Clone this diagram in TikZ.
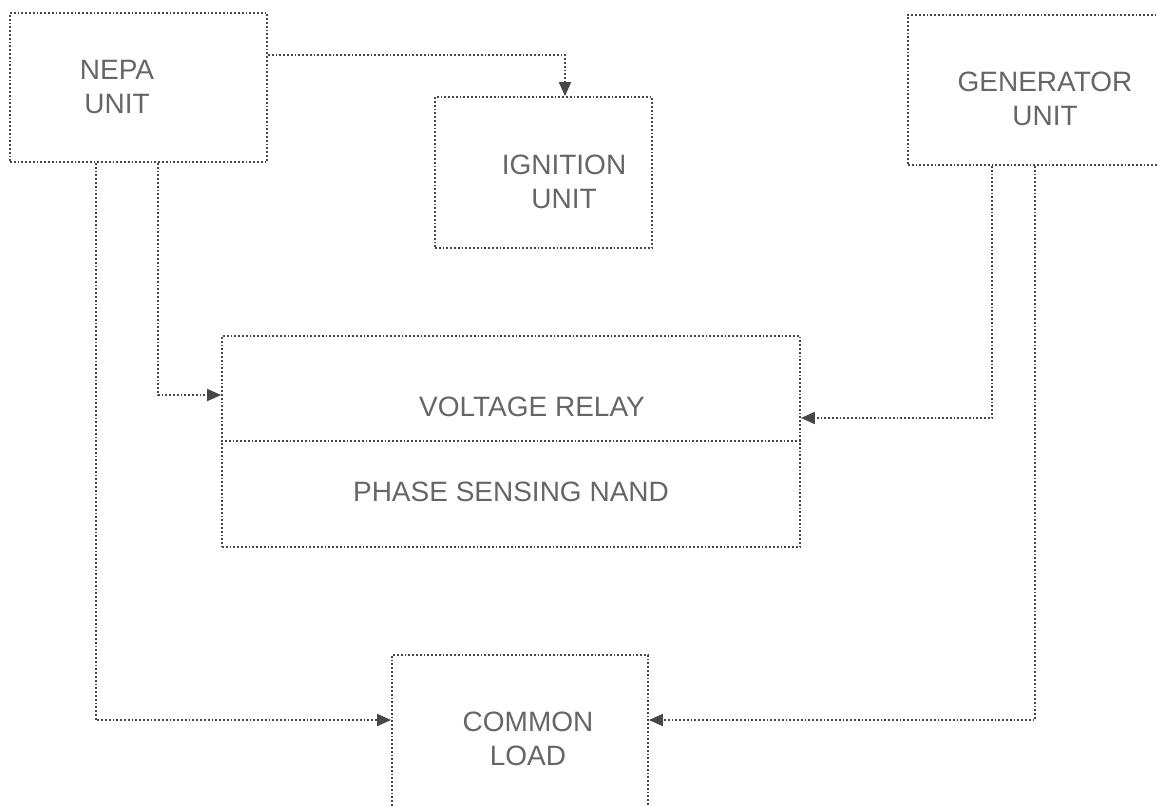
\documentclass[tikz,border=0pt]{standalone}
\usepackage{fontspec}
\setmainfont{Liberation Sans}
\usetikzlibrary{arrows.meta}
\definecolor{lineink}{gray}{0.28}
\definecolor{textink}{gray}{0.40}
\tikzset{
  unitbox/.style={draw=lineink, densely dotted, line width=0.9pt, inner sep=0pt},
  unittext/.style={anchor=north, inner sep=0pt, align=center, text=textink,
    font=\fontsize{14pt}{17pt}\selectfont},
  conn/.style={draw=lineink, densely dotted, line width=0.9pt,
    -{Triangle[length=7pt,width=6pt]}}
}
\begin{document}
\begin{tikzpicture}[x=0.5pt,y=-0.5pt]
\clip (0,0) rectangle (1157,805);
% unit boxes
\node[unitbox, minimum width=128.5pt, minimum height=74.5pt] (nepa) at (138.5,87.5) {};
\node[unitbox, minimum width=108.5pt, minimum height=75.5pt] (ign) at (543.5,172.5) {};
\node[unitbox, minimum width=131pt, minimum height=75pt] (gen) at (1039,90) {};
\node[unitbox, minimum width=289pt, minimum height=105.5pt] (vr) at (511,441.5) {};
\node[unitbox, minimum width=128pt, minimum height=87.5pt] (load) at (520,742.5) {};
\draw[lineink, densely dotted, line width=0.9pt] (vr.west |- 0,441) -- (vr.east |- 0,441);
% labels
\node[unittext] (nepat) at (117,60) {NEPA\\UNIT};
\node[unittext] (ignt) at (564,155) {IGNITION\\UNIT};
\node[unittext] (gent) at (1045,72) {GENERATOR\\UNIT};
\node[unittext] (vrt) at (532,397) {VOLTAGE RELAY};
\node[unittext] (nandt) at (511,482) {PHASE SENSING NAND};
\node[unittext] (loadt) at (528,712) {COMMON\\LOAD};
% connectors
\draw[conn] (nepa.east |- 0,55) -| (565,0 |- ign.north);
\draw[conn] (158,0 |- nepa.south) |- (vr.west |- 0,395);
\draw[conn] (96,0 |- nepa.south) |- (load.west |- 0,720);
\draw[conn] (992,0 |- gen.south) |- (vr.east |- 0,418);
\draw[conn] (1035,0 |- gen.south) |- (load.east |- 0,720);
\end{tikzpicture}
\end{document}
